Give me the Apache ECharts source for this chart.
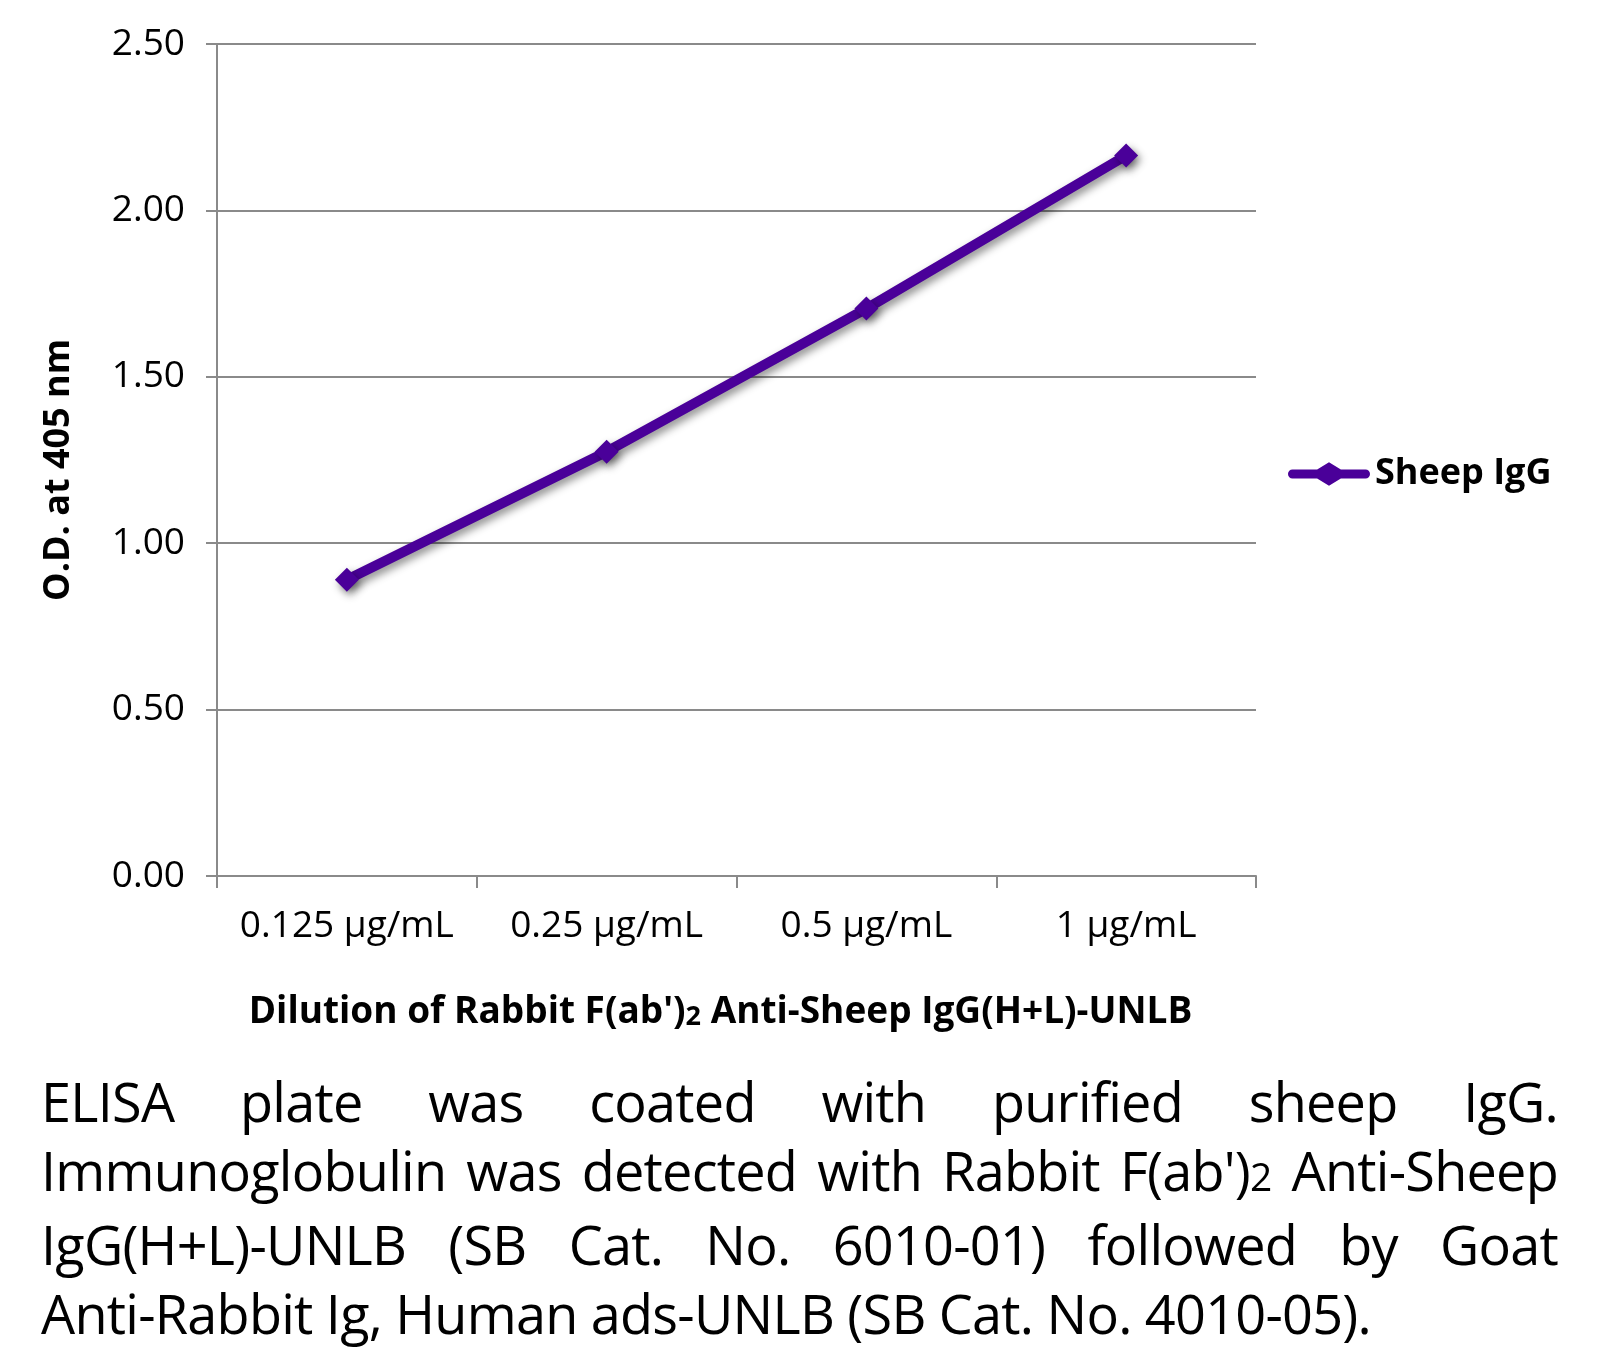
<!DOCTYPE html>
<html>
<head>
<meta charset="utf-8">
<script src="https://cdn.jsdelivr.net/npm/echarts@6/dist/echarts.min.js"></script>
<style>
  html, body { margin: 0; padding: 0; background: #fff; }
  #chart { position: absolute; left: 0; top: 0; width: 1597px; height: 1348px; }
  #caption { position: absolute; left: 41px; top: 1067px; width: 1517px;
    font-family: "Open Sans", sans-serif; font-size: 54px; line-height: 69px; color: #000; letter-spacing: -0.75px; }
  #caption .ln { white-space: nowrap; text-align: justify; text-align-last: justify; }
  #caption .last { text-align: left; text-align-last: left; }
  #caption .sub { font-size: 0.72em; }
</style>
</head>
<body>
<div id="chart"></div>
<div id="caption">
  <div class="ln">ELISA plate was coated with purified sheep IgG.</div>
  <div class="ln">Immunoglobulin was detected with Rabbit F(ab')<span class="sub">2</span> Anti-Sheep</div>
  <div class="ln">IgG(H+L)-UNLB (SB Cat. No. 6010-01) followed by Goat</div>
  <div class="ln last">Anti-Rabbit Ig, Human ads-UNLB (SB Cat. No. 4010-05).</div>
</div>
<script>
const categories = ['0.125 µg/mL', '0.25 µg/mL', '0.5 µg/mL', '1 µg/mL'];
const seriesName = 'Sheep IgG';
const sheepIgG = [0.89, 1.275, 1.705, 2.165];
const yMin = 0, yMax = 2.5, yInterval = 0.5;
const yTitle = 'O.D. at 405 nm';
const xTitleA = "Dilution of Rabbit F(ab')";
const xTitleSub = '2';
const xTitleB = ' Anti-Sheep IgG(H+L)-UNLB';

const FONT = '"Open Sans", sans-serif';
const GRAY = '#8a8a8a';
const PURPLE = '#4a0099';
// legend glyph: thick line with a diamond in the middle (82 x 24 box)
const LEGEND_ICON = 'path://M4,7.5 L29,7.5 L41,0 L53,7.5 L78,7.5 A4.5,4.5 0 0 1 78,16.5 L53,16.5 L41,24 L29,16.5 L4,16.5 A4.5,4.5 0 0 1 4,7.5 Z';

const chart = echarts.init(document.getElementById('chart'), null, { renderer: 'canvas' });
chart.setOption({
  animation: false,
  backgroundColor: '#fff',
  grid: { left: 217, right: 341, top: 44, bottom: 472, containLabel: false },
  legend: {
    left: 1283, top: 451, orient: 'vertical',
    itemWidth: 82, itemHeight: 24, itemGap: 10,
    itemStyle: { color: PURPLE },
    textStyle: { fontFamily: FONT, fontSize: 36, fontWeight: 'bold', color: '#000', padding: [0, 0, 0, 0] },
    data: [{ name: seriesName, icon: LEGEND_ICON }]
  },
  xAxis: {
    type: 'category',
    data: categories,
    boundaryGap: true,
    axisLine: { show: true, lineStyle: { color: GRAY, width: 2 } },
    axisTick: { show: true, interval: 0, length: 12, lineStyle: { color: GRAY, width: 2 } },
    axisLabel: { interval: 0, hideOverlap: false, fontFamily: FONT, fontSize: 37, color: '#000', margin: 32 },
    name: xTitleA + '{s|' + xTitleSub + '}' + xTitleB,
    nameLocation: 'middle',
    nameGap: 118,
    nameTextStyle: {
      fontFamily: FONT, fontSize: 37, fontWeight: 'bold', color: '#000', padding: [0, 32, 0, 0],
      rich: { s: { fontFamily: FONT, fontSize: 27, fontWeight: 'bold', color: '#000', verticalAlign: 'bottom', padding: [8, 0, 0, 0] } }
    }
  },
  yAxis: {
    type: 'value',
    min: yMin, max: yMax, interval: yInterval,
    axisLine: { show: true, lineStyle: { color: GRAY, width: 2 } },
    axisTick: { show: true, length: 11, lineStyle: { color: GRAY, width: 2 } },
    splitLine: { show: true, lineStyle: { color: GRAY, width: 2 } },
    axisLabel: { fontFamily: FONT, fontSize: 37, color: '#000', margin: 32, padding: [5, 0, 0, 0],
      formatter: v => v.toFixed(2) },
    name: yTitle,
    nameLocation: 'middle',
    nameGap: 140,
    nameRotate: 90,
    nameTextStyle: { fontFamily: FONT, fontSize: 36, fontWeight: 'bold', color: '#000', padding: [0, 20, 0, 0] }
  },
  series: [{
    name: seriesName,
    type: 'line',
    data: sheepIgG,
    symbol: 'diamond',
    symbolSize: 24,
    lineStyle: { color: PURPLE, width: 10, cap: 'round',
      shadowColor: 'rgba(0,0,0,0.45)', shadowBlur: 8, shadowOffsetX: 3, shadowOffsetY: 4 },
    itemStyle: { color: PURPLE, borderWidth: 0,
      shadowColor: 'rgba(0,0,0,0.45)', shadowBlur: 8, shadowOffsetX: 3, shadowOffsetY: 4 }
  }]
});
</script>
</body>
</html>
